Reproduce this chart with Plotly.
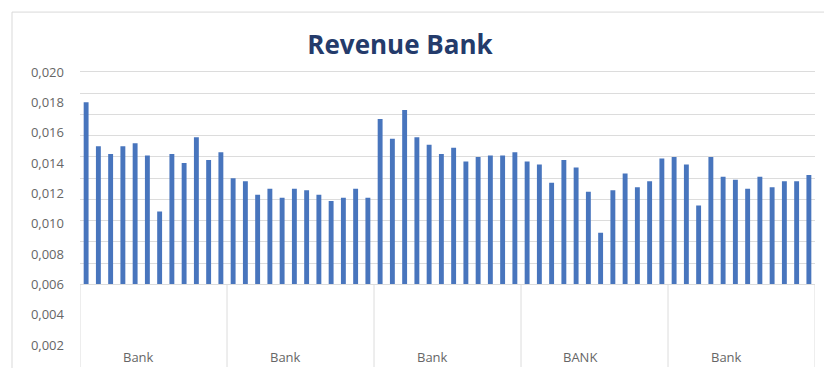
import plotly.graph_objects as go

# Revenue per bank, 12 readings for each of five bank groups
group_labels = ["Bank", "Bank", "Bank", "BANK", "Bank"]

group1 = [0.0180, 0.0151, 0.0146, 0.0151, 0.0153, 0.0145,
          0.0108, 0.0146, 0.0140, 0.0157, 0.0142, 0.0147]
group2 = [0.0130, 0.0128, 0.0119, 0.0123, 0.0117, 0.0123,
          0.0122, 0.0119, 0.0115, 0.0117, 0.0123, 0.0117]
group3 = [0.0169, 0.0156, 0.0175, 0.0157, 0.0152, 0.0146,
          0.0150, 0.0141, 0.0144, 0.0145, 0.0145, 0.0147]
group4 = [0.0141, 0.0139, 0.0127, 0.0142, 0.0137, 0.0121,
          0.0094, 0.0122, 0.0133, 0.0124, 0.0128, 0.0143]
group5 = [0.0144, 0.0139, 0.0112, 0.0144, 0.0131, 0.0129,
          0.0123, 0.0131, 0.0124, 0.0128, 0.0128, 0.0132]

groups = [group1, group2, group3, group4, group5]
values = [v for g in groups for v in g]
n_per_group = len(group1)

base_value = 0.006
y_min, y_max = 0.00055, 0.02013
bar_domain_start = (base_value - y_min) / (y_max - y_min)

BAR_COLOR = "#4875bd"
GRID_COLOR = "#dcdcdc"
TEXT_COLOR = "#666666"
FONT = "Open Sans"

fig = go.Figure()

# invisible trace that carries the labelled value axis
fig.add_trace(go.Scatter(x=[0], y=[base_value], mode="markers",
                         marker=dict(opacity=0), hoverinfo="skip",
                         showlegend=False, yaxis="y"))

# bars rise from the 0.006 baseline
fig.add_trace(go.Bar(
    x=list(range(len(values))),
    y=[v - base_value for v in values],
    base=base_value,
    width=0.4,
    marker=dict(color=BAR_COLOR, line=dict(width=0)),
    showlegend=False,
    yaxis="y2",
    hovertemplate="%{customdata:.4f}<extra></extra>",
    customdata=values,
))

# group dividers below the baseline and group names
shapes = []
for g in range(len(groups) + 1):
    xpos = g * n_per_group - 0.5
    shapes.append(dict(type="line", xref="x", yref="y",
                       x0=xpos, x1=xpos, y0=y_min, y1=base_value,
                       line=dict(color=GRID_COLOR, width=1)))

# outer chart frame
shapes.append(dict(type="rect", xref="paper", yref="paper",
                   x0=-0.0925, x1=1.05, y0=-0.2, y1=1.195,
                   line=dict(color="#d9d9d9", width=1), layer="below"))

annotations = []
for g, label in enumerate(group_labels):
    annotations.append(dict(x=g * n_per_group + 4.3, y=0.0012, xref="x", yref="y",
                            text=label, showarrow=False,
                            font=dict(family=FONT, size=13, color=TEXT_COLOR)))

fig.update_layout(
    width=824, height=368,
    margin=dict(l=80, r=9, t=70, b=1),
    paper_bgcolor="white", plot_bgcolor="white",
    separators=",.",
    title=dict(text="<b>Revenue Bank</b>", x=400 / 824, xref="container",
               xanchor="center", y=1 - 45 / 368, yref="container", yanchor="middle",
               font=dict(family=FONT, size=26, color="#243b6b")),
    xaxis=dict(range=[-0.5, len(values) - 0.5], anchor="y2",
               showgrid=False, zeroline=False, showticklabels=False,
               showline=True, linecolor=GRID_COLOR, ticks=""),
    yaxis=dict(range=[y_min, y_max], domain=[0, 1], anchor="x",
               tickmode="linear", tick0=0.002, dtick=0.002, tickformat=".3f",
               showgrid=False, zeroline=False, showline=False, ticks="",
               ticklabelstandoff=15,
               tickfont=dict(family=FONT, size=13, color=TEXT_COLOR)),
    yaxis2=dict(range=[base_value, y_max], domain=[bar_domain_start, 1], anchor="x",
                tickmode="linear", tick0=base_value, dtick=0.0014,
                showgrid=True, gridcolor=GRID_COLOR, gridwidth=1,
                zeroline=False, showticklabels=False, ticks="", showline=False),
    shapes=shapes,
    annotations=annotations,
    bargap=0.6,
)

fig.write_html("out.html")
